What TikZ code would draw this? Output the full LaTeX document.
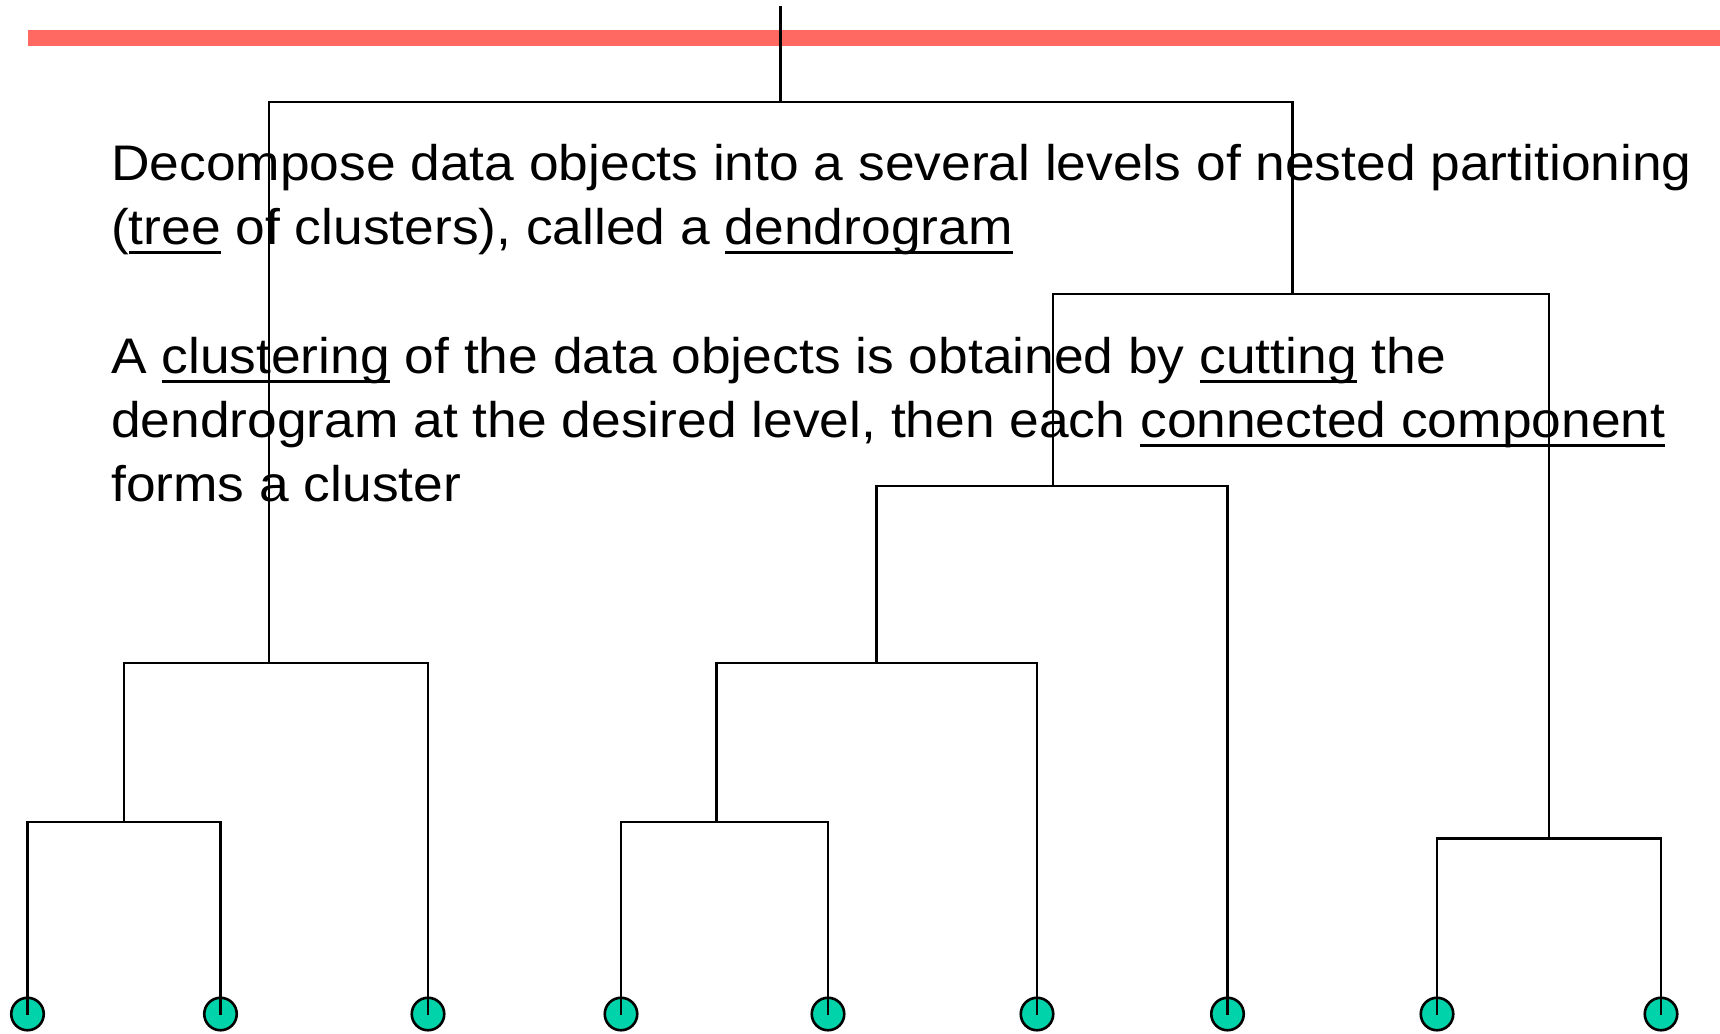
\documentclass[tikz,border=0pt]{standalone}
\usepackage{fontspec}
\setmainfont{Liberation Sans}[FakeStretch=1.067]
\definecolor{barred}{RGB}{255,105,98}
\definecolor{leafteal}{RGB}{0,210,170}
% underline at a fixed depth below the baseline, independent of descenders
\newsavebox\ulbox
\newcommand\ulword[1]{\sbox\ulbox{#1}\rlap{\rule[-9.5pt]{\wd\ulbox}{2.6pt}}\usebox\ulbox}
\tikzset{
  link/.style={draw=black, line width=2.5pt, line cap=rect},
  leaf/.style={circle, draw=black, line width=2.6pt, fill=leafteal, minimum size=32.5pt, inner sep=0pt},
  txt/.style={anchor=base west, inner sep=0pt, font=\fontsize{50}{60}\selectfont},
}
\begin{document}
\begin{tikzpicture}[x=1pt,y=-1pt]
\useasboundingbox (0,0) rectangle (1720,1033);
% heading rule
\fill[barred] (28,30) rectangle (1720,46);

% leaves
\node[leaf] (L1) at (27.5,1014) {};
\node[leaf] (L2) at (220.5,1014) {};
\node[leaf] (L3) at (428,1014) {};
\node[leaf] (L4) at (621,1014) {};
\node[leaf] (L5) at (828,1014) {};
\node[leaf] (L6) at (1037,1014) {};
\node[leaf] (L7) at (1227.5,1014) {};
\node[leaf] (L8) at (1437,1014) {};
\node[leaf] (L9) at (1661,1014) {};

% merge points (where the parent link meets each bar)
\coordinate (m12) at (124,822);
\coordinate (m123) at (269,663);
\coordinate (m45) at (716.5,822);
\coordinate (m456) at (876.5,663);
\coordinate (m4567) at (1053,486);
\coordinate (m89) at (1549,838.5);
\coordinate (m4to9) at (1292.5,294);
\coordinate (mall) at (780.5,102);
\coordinate (root) at (780.5,7);

% dendrogram links
\draw[link] (L1.center) |- (m12) -| (L2.center);
\draw[link] (m12) |- (m123) -| (L3.center);
\draw[link] (L4.center) |- (m45) -| (L5.center);
\draw[link] (m45) |- (m456) -| (L6.center);
\draw[link] (m456) |- (m4567) -| (L7.center);
\draw[link] (L8.center) |- (m89) -| (L9.center);
\draw[link] (m4567) |- (m4to9) -| (m89);
\draw[link] (m123) |- (mall) -| (m4to9);
\draw[link] (mall) -- (root);

% text
\node[txt] (t1) at (111,180) {Decompose data objects into a several levels of nested partitioning};
\node[txt] (t2) at (111,244) {(\ulword{tree} of clusters), called a \ulword{dendrogram}};
\node[txt] (t3) at (111,373) {A \ulword{clustering} of the data objects is obtained by \ulword{cutting} the};
\node[txt] (t4) at (111,437) {dendrogram at the desired level, then each \ulword{connected component}};
\node[txt] (t5) at (111,501) {forms a cluster};
\end{tikzpicture}
\end{document}
